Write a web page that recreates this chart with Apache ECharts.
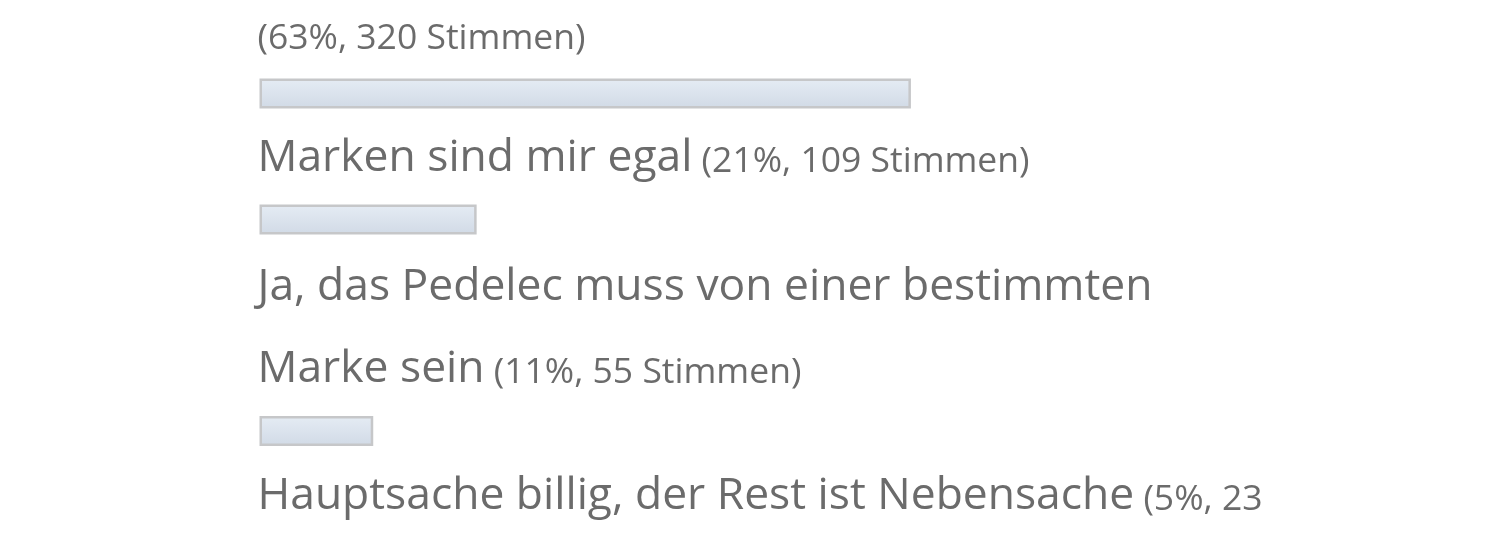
<!DOCTYPE html>
<html>
<head>
<meta charset="utf-8">
<script src="https://cdn.jsdelivr.net/npm/echarts@6/dist/echarts.min.js"></script>
<style>
  html, body { margin: 0; background: #fff; }
  #chart { width: 1500px; height: 550px; }
</style>
</head>
<body>
<div id="chart"></div>
<script>
// poll answers (first one is cut off above the picture)
var answers = ['', 'Marken sind mir egal', 'Ja, das Pedelec muss von einer bestimmten Marke sein', 'Hauptsache billig, der Rest ist Nebensache'];
var percents = [63, 21, 11, 5];
var votes = [320, 109, 55, 23];

// layout: vertical centre of each bar in px
var barCenters = [93.5, 219.5, 431, 640];

var textColor = '#6b6b6b';
var bigSize = 44.4, smallSize = 35.5, lineH = 82.4;
var fonts = { a: bigSize + 'px "Open Sans"', b: smallSize + 'px "Open Sans"' };
var maxLineWidth = 1025;

// word-wrap the answer text plus vote count into rich-text lines
var measure = document.createElement('canvas').getContext('2d');
function wrapLabel(name, count) {
    var words = [];
    name.split(' ').filter(Boolean).forEach(function (w) { words.push({ t: w, s: 'a' }); });
    count.split(' ').forEach(function (w) { words.push({ t: w, s: 'b' }); });
    var lines = [[]], width = 0;
    words.forEach(function (w) {
        measure.font = fonts[w.s];
        var ww = measure.measureText((width ? ' ' : '') + w.t).width;
        if (width && width + ww > maxLineWidth) {
            lines.push([]);
            width = 0;
            ww = measure.measureText(w.t).width;
        }
        lines[lines.length - 1].push(w);
        width += ww;
    });
    return lines.map(function (line) {
        return line.map(function (w, j) {
            return '{' + w.s + '|' + (j ? ' ' : '') + w.t + '}';
        }).join('');
    }).join('\n');
}

var chart = echarts.init(document.getElementById('chart'));

var grids = [], xAxes = [], yAxes = [], series = [];
answers.forEach(function (name, i) {
    grids.push({ left: 259.5, width: 1034, top: barCenters[i] - 20, height: 40 });
    xAxes.push({ gridIndex: i, type: 'value', min: 0, max: 100, show: false });
    yAxes.push({ gridIndex: i, type: 'category', data: [name], show: false });
    series.push({
        type: 'bar',
        xAxisIndex: i,
        yAxisIndex: i,
        data: [percents[i]],
        barWidth: 30,
        itemStyle: {
            color: new echarts.graphic.LinearGradient(0, 0, 0, 1, [
                { offset: 0, color: '#e5ecf4' },
                { offset: 1, color: '#d1dae6' }
            ]),
            borderColor: '#c6c7c9',
            borderWidth: 2.5
        },
        label: {
            show: true,
            position: [-2, -5],
            align: 'left',
            verticalAlign: 'bottom',
            fontFamily: 'Open Sans',
            fontSize: bigSize,
            lineHeight: lineH,
            color: textColor,
            formatter: function () {
                return wrapLabel(name, '(' + percents[i] + '%, ' + votes[i] + ' Stimmen)');
            },
            rich: {
                a: { fontFamily: 'Open Sans', fontSize: bigSize, lineHeight: lineH, color: textColor },
                // small text sits on the same baseline as the big text
                b: { fontFamily: 'Open Sans', fontSize: smallSize, lineHeight: lineH - 6.4, padding: [6.4, 0, 0, 0], color: textColor }
            }
        }
    });
});

chart.setOption({
    animation: false,
    grid: grids,
    xAxis: xAxes,
    yAxis: yAxes,
    series: series
});
</script>
</body>
</html>
